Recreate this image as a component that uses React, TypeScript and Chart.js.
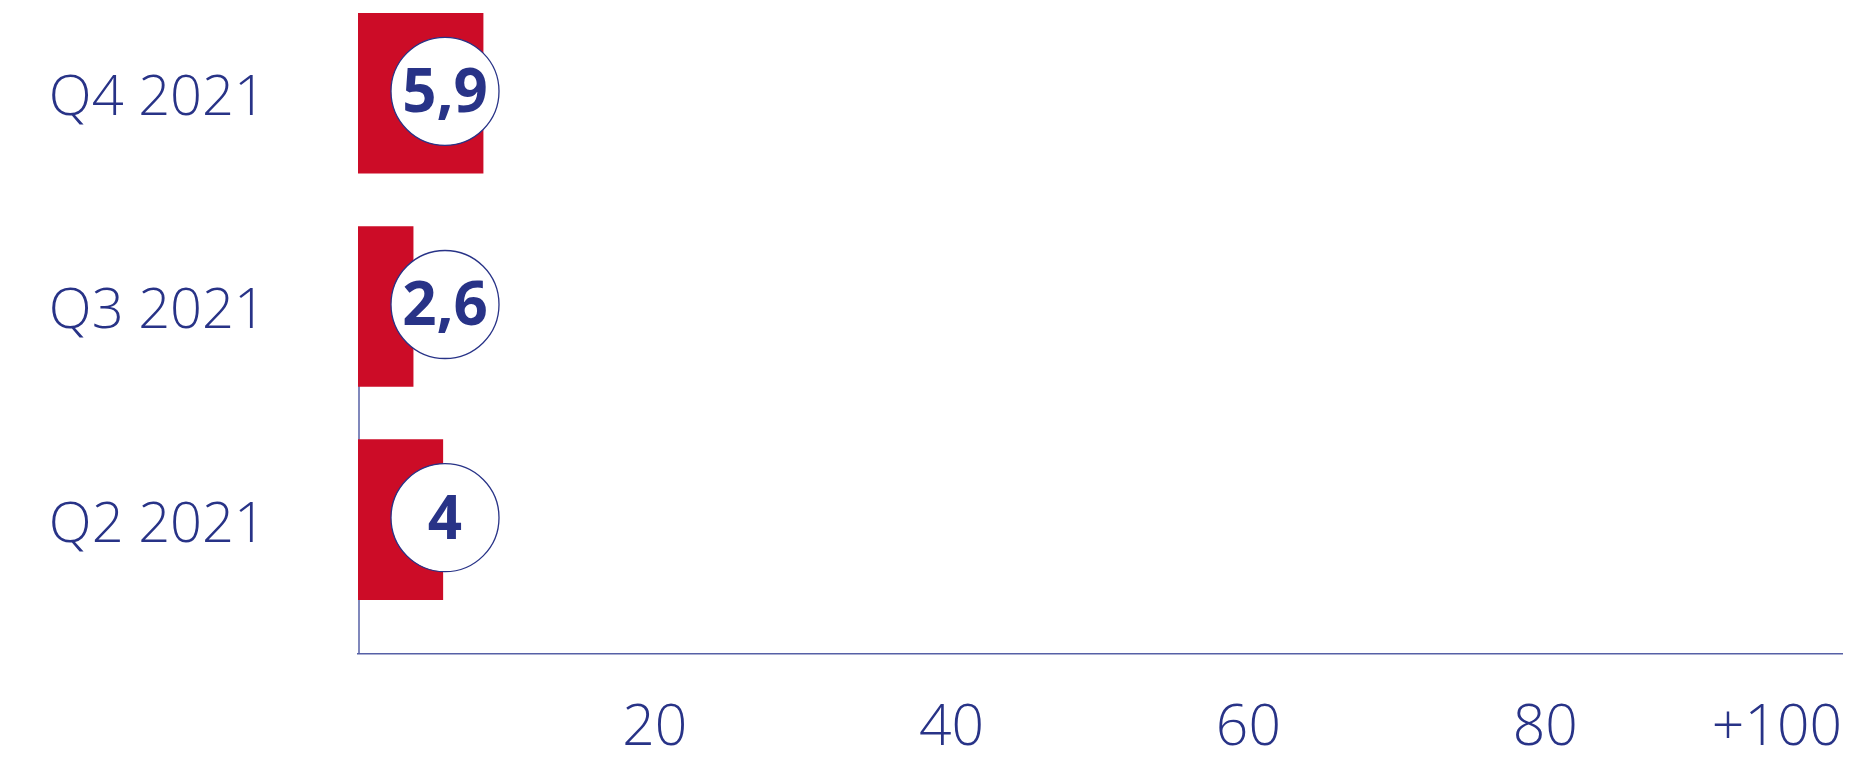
import React, { useEffect, useRef } from "react";
import { Chart, registerables } from "chart.js";

Chart.register(...registerables);

// ---- data ----
const categories = ["Q4 2021", "Q3 2021", "Q2 2021"];
const values = [5.9, 2.6, 4];
const xTickLabels = ["", "20", "40", "60", "80", "+100"];

// ---- styles ----
const RED = "#CC0C27";
const BLUE = "#283387";
const AXIS = "#5660a6";
const LIGHT_FONT = '"Open Sans", "Noto Sans", sans-serif';

const fmt = (v: number) => String(v).replace(".", ",");

const badgePlugin = {
  id: "badges",
  beforeDatasetsDraw(chart: any) {
    // partial vertical axis line (from the middle category down to the baseline)
    const { ctx, chartArea } = chart;
    const y = chart.scales.y;
    ctx.save();
    ctx.strokeStyle = AXIS;
    ctx.lineWidth = 1.5;
    ctx.beginPath();
    ctx.moveTo(chartArea.left + 1, y.getPixelForValue(1));
    ctx.lineTo(chartArea.left + 1, chartArea.bottom);
    ctx.stroke();
    ctx.restore();
  },
  afterDatasetsDraw(chart: any) {
    const { ctx, chartArea } = chart;
    const meta = chart.getDatasetMeta(0);
    const data = chart.data.datasets[0].data as any[];
    ctx.save();
    meta.data.forEach((el: any, i: number) => {
      const cx = chartArea.left + 87;
      const cy = el.y - 2;
      ctx.beginPath();
      ctx.arc(cx, cy, 54, 0, Math.PI * 2);
      ctx.fillStyle = "#ffffff";
      ctx.fill();
      ctx.lineWidth = 1.3;
      ctx.strokeStyle = BLUE;
      ctx.stroke();
      ctx.fillStyle = BLUE;
      ctx.font = `bold 60px ${LIGHT_FONT}`;
      ctx.textAlign = "center";
      ctx.textBaseline = "alphabetic";
      ctx.fillText(fmt(data[i].x), cx, cy + 21);
    });
    ctx.restore();
  },
};

export default function App() {
  const ref = useRef<HTMLCanvasElement | null>(null);

  useEffect(() => {
    if (!ref.current) return;
    const n = categories.length;
    const chart = new Chart(ref.current, {
      type: "bar",
      data: {
        datasets: [
          {
            data: values.map((v, i) => ({ x: v, y: n - 1 - i })),
            backgroundColor: RED,
            borderWidth: 0,
            barThickness: 160,
            xAxisID: "xBar",
            yAxisID: "y",
          },
        ],
      },
      options: {
        responsive: true,
        maintainAspectRatio: false,
        animation: false,
        indexAxis: "y",
        layout: { padding: { left: 0, right: 25, top: 0, bottom: 0 } },
        plugins: {
          legend: { display: false },
          tooltip: { enabled: false },
        },
        scales: {
          x: {
            type: "linear",
            position: "bottom",
            offset: false,
            min: 0,
            max: 100,
            grid: { display: false, drawTicks: false, offset: false },
            border: { display: true, color: AXIS, width: 1.5 },
            ticks: {
              stepSize: 20,
              align: "inner",
              padding: 41,
              color: BLUE,
              font: { family: LIGHT_FONT, size: 57, weight: "300" },
              callback: (_v: any, i: number) => xTickLabels[i] ?? "",
            },
            afterFit: (s: any) => {
              s.height = 96;
              s.paddingLeft = 0;
              s.paddingRight = 0;
            },
          },
          xBar: { type: "linear", display: false, offset: false, min: 0, max: 70 },
          y: {
            type: "linear",
            position: "left",
            offset: false,
            min: -0.63,
            max: 2.4,
            grid: { display: false, drawTicks: false, offset: false },
            border: { display: false },
            ticks: {
              autoSkip: false,
              padding: 92,
              labelOffset: 6,
              color: BLUE,
              font: { family: LIGHT_FONT, size: 56, weight: "300" },
              callback: (v: any) => categories[n - 1 - Number(v)] ?? "",
            },
            afterBuildTicks: (s: any) => {
              s.ticks = categories.map((_c, i) => ({ value: i }));
            },
            afterFit: (s: any) => {
              s.width = 350;
              s.paddingTop = 0;
              s.paddingBottom = 0;
            },
          },
        },
      } as any,
      plugins: [badgePlugin],
    });
    return () => chart.destroy();
  }, []);

  return (
    <div style={{ position: "relative", width: "100%", height: 742 }}>
      <canvas ref={ref} style={{ display: "block" }} />
    </div>
  );
}
